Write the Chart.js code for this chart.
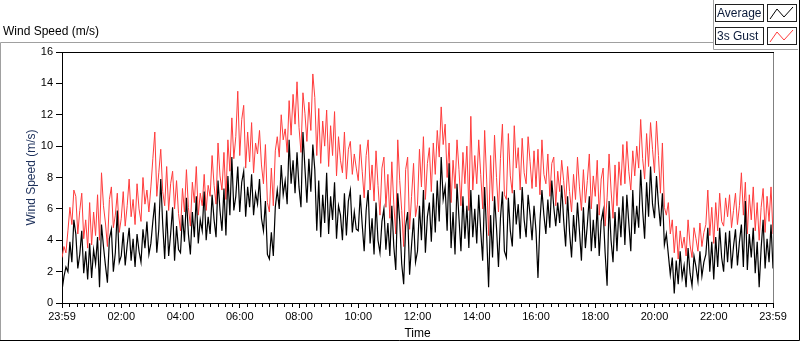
<!DOCTYPE html>
<html>
<head>
<meta charset="utf-8">
<script src="https://cdn.jsdelivr.net/npm/chart.js@4.4.0/dist/chart.umd.min.js"></script>
<style>
  html, body { margin: 0; padding: 0; background: #fff; }
  canvas { display: block; }
</style>
</head>
<body>
<canvas id="windChart" width="800" height="342"></canvas>
<script>
// one sample every 4 minutes, starting 23:59
const sampleStep = 4;

const timeLabels = ['23:59', '02:00', '04:00', '06:00', '08:00', '10:00', '12:00',
                    '14:00', '16:00', '18:00', '20:00', '22:00', '23:59'];

// 3s gust (m/s), one row per hour
const gust = [
  2.9, 3.6, 3.2, 4.6, 6.1, 5.0, 7.2, 6.8, 4.4, 5.9, 7.0, 4.1, 5.3, 3.5, 6.4,
  3.7, 5.8, 4.3, 6.9, 4.0, 8.3, 6.2, 5.1, 3.6, 6.6, 7.4, 4.8, 5.6, 7.0, 4.5,
  5.4, 7.1, 4.9, 6.2, 7.9, 5.5, 6.6, 5.0, 7.6, 6.0, 5.2, 8.0, 6.3, 7.2, 5.8,
  7.4, 9.2, 10.9, 6.8, 8.3, 9.8, 7.1, 6.2, 8.7, 5.9, 7.6, 8.4, 6.0, 7.8, 5.7,
  4.6, 7.3, 5.8, 8.5, 6.1, 4.9, 7.7, 6.4, 8.7, 5.6, 7.0, 6.2, 8.2, 5.9, 7.5,
  6.8, 9.4, 7.5, 6.3, 10.2, 8.1, 7.2, 9.6, 6.6, 10.4, 8.4, 11.8, 9.2, 10.6, 13.5,
  9.4, 11.7, 12.6, 8.6, 10.9, 9.0, 11.5, 8.3, 10.2, 9.5, 11.0, 8.8, 7.6, 10.1, 6.4,
  5.8, 8.6, 6.2, 9.7, 10.6, 9.3, 12.0, 10.4, 11.1, 9.6, 12.9, 10.7, 13.3, 11.4, 14.1,
  11.2, 9.6, 13.4, 12.1, 10.3, 12.8, 11.0, 14.6, 13.1, 9.4, 12.4, 8.9, 11.6, 10.0, 12.3,
  8.7, 11.3, 9.4, 12.2, 8.1, 10.6, 9.1, 8.3, 10.9, 7.9, 9.8, 10.3, 8.2, 9.5, 8.6,
  7.8, 10.1, 8.4, 6.7, 9.4, 10.4, 7.2, 8.8, 6.5, 9.7, 7.5, 5.6, 8.6, 9.3, 6.1,
  8.2, 5.4, 9.0, 6.3, 4.4, 10.4, 7.8, 5.9, 3.6, 8.5, 9.3, 4.7, 6.8, 8.9, 5.5,
  6.3, 9.8, 7.4, 10.6, 6.6, 8.9, 9.9, 7.1, 10.2, 8.2, 11.0, 9.3, 12.5, 10.1, 11.4,
  8.0, 10.2, 6.4, 9.1, 7.3, 10.4, 8.5, 6.2, 9.6, 7.6, 10.0, 5.9, 11.9, 7.2, 9.4,
  7.6, 10.4, 8.2, 6.0, 11.0, 7.9, 4.3, 9.4, 6.5, 10.7, 8.0, 5.8, 9.2, 11.4, 6.9,
  6.6, 10.8, 8.1, 7.0, 11.3, 8.6, 9.9, 7.2, 10.5, 8.3, 7.6, 10.6, 9.0, 7.3, 9.7,
  7.4, 9.8, 6.9, 10.4, 8.2, 7.6, 9.5, 6.8, 8.9, 9.3, 6.2, 8.4, 7.1, 9.1, 7.8,
  6.3, 8.7, 7.1, 5.8, 8.2, 6.6, 9.3, 7.4, 5.9, 8.5, 6.4, 7.8, 9.5, 6.0, 8.1,
  6.8, 9.1, 5.6, 7.9, 8.6, 4.9, 6.7, 9.5, 7.2, 5.4, 8.8, 6.2, 9.0, 7.5, 10.1,
  7.6, 10.3, 8.4, 7.2, 9.7, 8.1, 10.0, 8.6, 11.7, 9.2, 7.9, 10.8, 8.7, 11.5, 9.8,
  8.3, 11.6, 9.4, 7.0, 10.2, 6.1, 5.6, 6.4, 4.4, 5.3, 3.2, 4.9, 2.8, 4.6, 3.5,
  4.2, 3.0, 5.3, 3.7, 2.9, 4.8, 4.1, 3.3, 5.1, 3.6, 4.5, 5.0, 7.2, 4.3, 6.1,
  3.8, 6.4, 4.6, 7.0, 5.2, 4.9, 6.7, 5.5, 6.9, 4.8, 5.9, 7.0, 5.0, 6.2, 8.3,
  5.6, 7.7, 4.4, 6.9, 5.3, 7.4, 4.6, 6.4, 4.0, 6.1, 7.3, 4.5, 6.8, 5.2, 7.4,
  4.4
];

// average wind speed (m/s)
const average = [
  0.8, 1.7, 2.3, 2.0, 3.9, 2.6, 5.3, 4.4, 2.2, 3.1, 4.6, 1.9, 3.3, 1.5, 3.8,
  1.6, 3.4, 2.5, 4.2, 1.0, 5.0, 3.6, 2.4, 1.3, 4.1, 4.7, 2.0, 3.2, 5.9, 2.6,
  3.0, 4.5, 2.4, 3.7, 4.8, 2.7, 4.1, 2.3, 4.4, 3.3, 2.6, 4.7, 3.5, 5.2, 3.1,
  3.8, 5.2, 6.4, 3.2, 4.7, 7.9, 5.0, 2.8, 5.9, 3.0, 4.4, 6.1, 2.7, 4.9, 3.4,
  3.2, 5.6, 3.9, 6.7, 4.4, 3.1, 5.8, 4.2, 6.8, 3.8, 5.3, 4.6, 7.1, 4.0, 5.5,
  4.4, 6.9, 5.3, 4.2, 7.8, 5.9, 4.6, 7.3, 4.3, 8.1, 5.6, 9.3, 5.9, 6.8, 8.7,
  5.8, 7.7, 8.4, 5.5, 7.4, 6.1, 8.2, 5.6, 7.0, 6.3, 7.9, 5.4, 4.6, 6.5, 3.1,
  2.8, 4.5, 3.0, 6.1, 7.2, 6.0, 8.8, 6.9, 7.8, 6.3, 10.4, 7.6, 9.1, 7.0, 9.6,
  7.4, 6.1, 10.9, 8.6, 6.4, 9.2, 7.1, 10.1, 8.5, 4.6, 7.8, 4.2, 6.9, 5.1, 8.3,
  4.4, 6.8, 5.3, 7.7, 4.1, 6.2, 5.6, 4.0, 7.0, 4.3, 6.5, 7.2, 4.5, 5.8, 4.7,
  4.6, 6.9, 5.0, 3.3, 5.9, 7.2, 3.8, 5.4, 3.1, 6.4, 4.0, 3.2, 5.2, 6.0, 3.4,
  5.1, 3.0, 6.2, 3.6, 2.1, 7.0, 5.2, 2.5, 1.2, 4.9, 5.8, 1.8, 3.7, 5.4, 2.6,
  3.3, 6.2, 4.0, 7.2, 3.2, 5.5, 6.4, 3.9, 7.0, 4.5, 7.8, 5.2, 9.3, 6.6, 7.4,
  4.6, 8.9, 3.5, 5.8, 3.1, 7.6, 5.4, 3.3, 6.8, 4.1, 6.2, 3.5, 7.2, 4.2, 6.0,
  3.8, 6.9, 4.6, 2.7, 7.4, 4.4, 1.0, 5.6, 2.9, 6.8, 4.8, 2.3, 5.4, 7.1, 3.3,
  2.9, 6.7, 4.6, 3.6, 7.2, 5.0, 6.3, 4.1, 7.4, 5.3, 4.2, 6.9, 5.6, 4.0, 6.2,
  4.6, 1.6, 5.2, 7.2, 5.6, 4.4, 6.6, 4.8, 7.8, 6.1, 4.9, 6.4, 5.1, 7.5, 5.3,
  3.6, 6.8, 4.5, 2.9, 5.6, 3.9, 6.4, 4.6, 2.7, 6.1, 3.5, 5.0, 6.8, 3.3, 5.3,
  3.5, 6.3, 3.0, 5.2, 5.9, 3.2, 1.1, 6.5, 4.0, 2.6, 5.8, 3.3, 6.1, 4.2, 6.8,
  3.7, 6.9, 5.1, 3.3, 7.2, 4.4, 6.2, 4.8, 8.5, 5.9, 4.1, 7.7, 5.5, 8.7, 6.3,
  5.4, 8.1, 6.3, 4.9, 7.0, 3.7, 4.4, 3.1, 1.8, 2.9, 0.6, 2.7, 1.2, 3.3, 1.6,
  2.4, 1.0, 3.5, 1.9, 1.1, 3.0, 2.3, 1.4, 3.3, 1.7, 2.6, 3.1, 4.8, 2.0, 3.9,
  1.5, 4.2, 2.3, 4.8, 2.9, 2.0, 4.5, 2.6, 4.6, 2.2, 3.6, 4.7, 2.4, 3.9, 5.0,
  2.3, 6.5, 2.1, 4.4, 2.9, 4.8, 1.9, 3.9, 1.0, 3.5, 5.3, 2.2, 4.1, 2.6, 5.0,
  2.2
];

const toPoints = arr => arr.map((v, i) => ({ x: i * sampleStep, y: v }));

const FONT = 'Liberation Sans, Arial, sans-serif';

// frame, legend boxes and minor ticks (LabVIEW style panel)
const panelPlugin = {
  id: 'panel',
  beforeDraw(chart) {
    const c = chart.ctx;
    c.save();
    c.fillStyle = '#fff';
    c.fillRect(0, 0, chart.width, chart.height);
    c.restore();
  },
  afterDraw(chart) {
    const c = chart.ctx;
    const area = chart.chartArea;
    const xs = chart.scales.x;
    c.save();
    c.lineWidth = 1;

    // outer panel
    c.strokeStyle = '#a0a0a0';
    c.beginPath();
    c.moveTo(0.5, 341); c.lineTo(0.5, 42.5); c.lineTo(713.5, 42.5);
    c.moveTo(713.5, 0); c.lineTo(713.5, 49.5); c.lineTo(798, 49.5);
    c.stroke();
    c.strokeStyle = '#000';
    c.beginPath();
    c.moveTo(0, 340.5); c.lineTo(799.5, 340.5); c.lineTo(799.5, 0);
    c.stroke();

    // plot frame top / right
    c.strokeStyle = '#000';
    c.beginPath();
    c.moveTo(area.left, area.top + 0.5); c.lineTo(area.right + 1, area.top + 0.5);
    c.stroke();
    c.strokeStyle = '#808080';
    c.beginPath();
    c.moveTo(area.right + 0.5, area.top + 1); c.lineTo(area.right + 0.5, area.bottom);
    c.stroke();

    // minor ticks every 15 min
    c.strokeStyle = '#000';
    c.beginPath();
    for (let m = 15; m < 1440; m += 15) {
      if (m % 120 === 0) continue;
      const px = Math.round(xs.getPixelForValue(m)) + 0.5;
      c.moveTo(px, area.bottom + 1); c.lineTo(px, area.bottom + 4);
    }
    c.stroke();

    // legend
    const rows = [
      { label: 'Average', color: '#000', y: 4 },
      { label: '3s Gust', color: 'rgb(255,60,60)', y: 27 }
    ];
    c.font = '12px ' + FONT;
    c.textBaseline = 'middle';
    rows.forEach(r => {
      const h = 17;
      c.fillStyle = '#fff';
      c.fillRect(715, r.y, 48, h);
      c.fillRect(767, r.y, 29, h);
      c.strokeStyle = '#202020';
      c.strokeRect(715.5, r.y + 0.5, 48, h);
      c.strokeRect(767.5, r.y + 0.5, 29, h);
      c.fillStyle = '#0a1a3a';
      c.fillText(r.label, 717, r.y + h / 2 + 1);
      c.strokeStyle = r.color;
      c.beginPath();
      c.moveTo(770, r.y + 15); c.lineTo(777, r.y + 5);
      c.lineTo(784, r.y + 13); c.lineTo(793, r.y + 3);
      c.stroke();
    });

    // chart caption
    c.fillStyle = '#000';
    c.textBaseline = 'middle';
    c.fillText('Wind Speed (m/s)', 3, 32);
    c.restore();
  }
};

const ctx = document.getElementById('windChart');

const windChart = new Chart(ctx, {
  type: 'line',
  data: {
    datasets: [
      {
        label: 'Average',
        data: toPoints(average),
        borderColor: '#000',
        borderWidth: 1.2,
        pointRadius: 0,
        tension: 0,
        order: 0
      },
      {
        label: '3s Gust',
        data: toPoints(gust),
        borderColor: 'rgb(255,60,60)',
        borderWidth: 1,
        pointRadius: 0,
        tension: 0,
        order: 1
      }
    ]
  },
  options: {
    responsive: false,
    animation: false,
    events: [],
    layout: { padding: { left: 20, right: 27, top: 52, bottom: 0 } },
    plugins: {
      legend: { display: false },
      tooltip: { enabled: false }
    },
    scales: {
      x: {
        type: 'linear',
        min: 0,
        max: 1440,
        afterFit: s => { s.height = 39; },
        ticks: {
          stepSize: 120,
          autoSkip: false,
          maxRotation: 0,
          padding: 2,
          color: '#000',
          font: { family: FONT, size: 11 },
          callback: v => timeLabels[Math.round(v / 120)]
        },
        grid: { drawOnChartArea: false, tickLength: 5, color: '#000' },
        border: { display: true, color: '#000' },
        title: {
          display: true,
          text: 'Time',
          color: '#000',
          font: { family: FONT, size: 12 },
          padding: { top: 0, bottom: 1 }
        }
      },
      y: {
        min: 0,
        max: 16,
        afterFit: s => { s.width = 42; },
        ticks: {
          stepSize: 2,
          padding: 3,
          color: '#000',
          font: { family: FONT, size: 11 }
        },
        grid: { drawOnChartArea: false, tickLength: 6, color: '#000' },
        border: { display: true, color: '#000' },
        title: {
          display: true,
          text: 'Wind Speed (m/s)',
          color: '#1c2f5a',
          font: { family: FONT, size: 12 },
          padding: { top: 4, bottom: 4 }
        }
      }
    }
  },
  plugins: [panelPlugin]
});
</script>
</body>
</html>
